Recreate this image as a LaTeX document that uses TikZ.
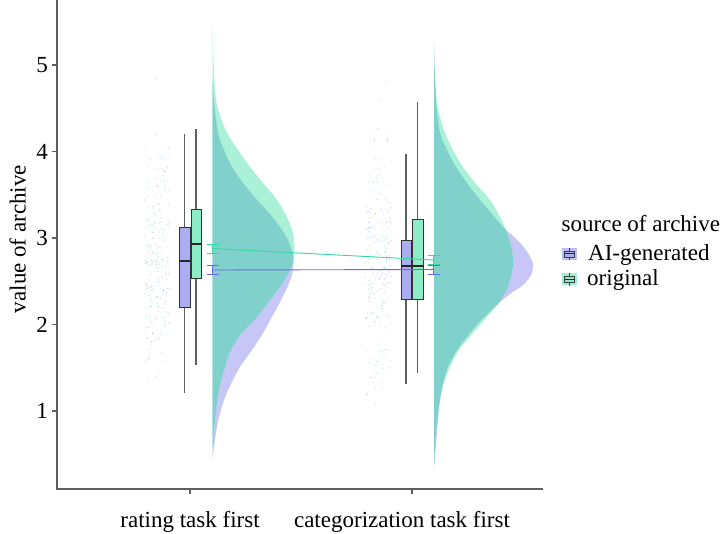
\documentclass[tikz,border=0pt]{standalone}
\usepackage{fontspec}
\setmainfont{Liberation Serif}
\usepackage{tikz}
\usetikzlibrary{positioning}

\definecolor{aibox}{RGB}{172,172,240}
\definecolor{origbox}{RGB}{140,236,198}
\definecolor{aiviolin}{RGB}{198,198,247}
\definecolor{origviolin}{RGB}{170,241,216}
\definecolor{overlap}{RGB}{128,208,204}
\definecolor{ailine}{RGB}{105,105,235}
\definecolor{origline}{RGB}{55,215,160}
\definecolor{axisgray}{RGB}{95,95,95}

\tikzset{
 ratingAI/.style={insert path={plot[smooth] coordinates {(212.5,78) (214,100) (218,133) (224,150) (232,167) (243,183) (257,200) (270,214) (280,227) (288,240) (292,251) (293.5,262) (292,275) (287,288) (280,302) (272,317) (263,333) (252,350) (240,367) (231,384) (224,400) (219,417) (216,433) (214,448) (212.5,460)} -- cycle}},
 ratingOrig/.style={insert path={plot[smooth] coordinates {(212.5,22) (213.5,60) (216,100) (221,118) (227,133) (238,150) (250,167) (264,184) (277,200) (287,217) (293,233) (294.5,250) (293,262) (288,274) (280,287) (270,300) (257,317) (241,334) (231,350) (225,367) (220,385) (217,402) (215,420) (213.5,438) (212.5,448)} -- cycle}},
 catAI/.style={insert path={plot[smooth] coordinates {(434,42) (436,100) (440,133) (447,150) (456,167) (467,183) (480,200) (493,215) (503,227) (513,236) (521,244) (528,253) (533,264) (531,275) (523,285) (510,294) (497,305) (484,317) (470,333) (457,350) (448,367) (443,383) (440,400) (438,420) (436,445) (434,470)} -- cycle}},
 catOrig/.style={insert path={plot[smooth] coordinates {(434,42) (435,80) (436.5,100) (440,117) (445,133) (453,150) (463,167) (476,184) (490,200) (500,217) (507,233) (512,250) (513,265) (510,280) (505,293) (497,305) (487,317) (473,333) (459,350) (450,367) (444,383) (440,400) (437,420) (435,445) (434,465)} -- cycle}},
}

\newcommand*{\meanbar}[2]{
 \draw[#1] (#2) ++(-6,-4.5) -- ++(12,0) (#2) ++(0,-4.5) -- ++(0,9) (#2) ++(-6,4.5) -- ++(12,0);
}

\begin{document}
\begin{tikzpicture}[x=1pt, y=-1pt,
 txt/.style = {font=\fontsize{23}{28}\selectfont, inner sep=0pt},
 axis/.style = {axisgray, line width=1.3pt},
 whisk/.style = {axisgray, line width=1.6pt},
 boxline/.style = {draw=black!80, line width=0.9pt},
 med/.style = {black!85, line width=2pt},
 aidot/.style = {ailine, opacity=0.3},
 origdot/.style = {origline, opacity=0.3},
 keybox/.style = {minimum width=15pt, minimum height=12pt, inner sep=0pt}]
\useasboundingbox (0,0) rectangle (725,534);

% axes
\draw[axis] (57,0) -- (57,489) -- (543,489);
\foreach \v/\y in {1/411, 2/324.5, 3/238, 4/151.5, 5/65}{
 \draw[axis] (52,\y) -- (57,\y);
 \node[txt, anchor=base east] (tick\v) at (48,\y+7.8) {\v};
}
\draw[axis] (190,489) -- (190,494);
\draw[axis] (412,489) -- (412,494);
\node[txt, anchor=base] (xrate) at (190,527) {rating task first};
\node[txt, anchor=base] (xcat) at (402,527) {categorization task first};
\node[txt, anchor=base, rotate=90] (ylab) at (25.5,239) {value of archive};

% rain
\pgfmathsetseed{7}
\foreach \n in {1,...,120}{
 \pgfmathsetmacro{\px}{145+25*rnd}
 \pgfmathsetmacro{\py}{262+133*(rnd+rnd-1)}
 \fill[aidot] (\px,\py) circle (0.7pt);
 \pgfmathsetmacro{\px}{145+25*rnd}
 \pgfmathsetmacro{\py}{255+125*(rnd+rnd-1)}
 \fill[origdot] (\px,\py) circle (0.7pt);
 \pgfmathsetmacro{\px}{365+27*rnd}
 \pgfmathsetmacro{\py}{268+150*(rnd+rnd-1)}
 \fill[aidot] (\px,\py) circle (0.7pt);
 \pgfmathsetmacro{\px}{365+27*rnd}
 \pgfmathsetmacro{\py}{262+150*(rnd+rnd-1)}
 \fill[origdot] (\px,\py) circle (0.7pt);
}
\fill[origdot] (156,78) circle (0.9pt);
\fill[origdot] (386,82) circle (0.9pt);
\fill[origdot] (381,100) circle (0.9pt);
\fill[aidot] (378,129) circle (0.9pt);

% clouds
\fill[aiviolin, ratingAI];
\fill[origviolin, ratingOrig];
\begin{scope}
 \clip[ratingAI];
 \fill[overlap, ratingOrig];
\end{scope}
\fill[aiviolin, catAI];
\fill[origviolin, catOrig];
\begin{scope}
 \clip[catAI];
 \fill[overlap, catOrig];
\end{scope}

% boxes
\draw[whisk] (184.5,134) -- (184.5,393);
\draw[boxline, fill=aibox] (179,227) rectangle (190,307);
\draw[med] (179,261) -- (190,261);
\draw[whisk] (196,129) -- (196,365);
\draw[boxline, fill=origbox] (191,209) rectangle (201,278);
\draw[med] (191,244) -- (201,244);

\draw[whisk] (406,154) -- (406,384);
\draw[boxline, fill=aibox] (401,240) rectangle (411,299);
\draw[med] (401,266) -- (411,266);
\draw[whisk] (417.5,102) -- (417.5,373);
\draw[boxline, fill=origbox] (412,219) rectangle (423,299);
\draw[med] (412,266) -- (423,266);

% means
\coordinate (rAI) at (212.5,270);
\coordinate (rOrig) at (212.5,248.5);
\coordinate (cAI) at (433.5,269.5);
\coordinate (cOrig) at (433.5,260);
\draw[origline, line width=0.9pt] (rOrig) -- (cOrig);
\draw[ailine, line width=0.9pt] (rAI) -- (cAI);
\meanbar{origline, line width=0.9pt}{rOrig}
\meanbar{ailine, line width=0.9pt}{rAI}
\meanbar{origline, line width=0.9pt}{cOrig}
\meanbar{ailine, line width=0.9pt}{cAI}

% legend
\node[txt, anchor=base west] (legtitle) at (561.5,232) {source of archive};
\node[keybox, fill=aibox!80] (kAI) at (569.5,254) {};
\node[keybox, fill=origbox!85] (kOrig) at (569.5,279.5) {};
\foreach \k/\c in {kAI/aibox, kOrig/origbox}{
 \draw[black!75, line width=0.7pt] (\k.north) -- (\k.south);
 \draw[black!75, line width=0.7pt, fill=\c] ([xshift=-5pt,yshift=-3pt]\k.center) rectangle ([xshift=5pt,yshift=3pt]\k.center);
 \draw[black!85, line width=1pt] ([xshift=-5pt]\k.center) -- ([xshift=5pt]\k.center);
}
\node[txt, anchor=base west] (legAI) at (588,260.5) {AI-generated};
\node[txt, anchor=base west] (legOrig) at (587,286) {original};
\end{tikzpicture}
\end{document}
